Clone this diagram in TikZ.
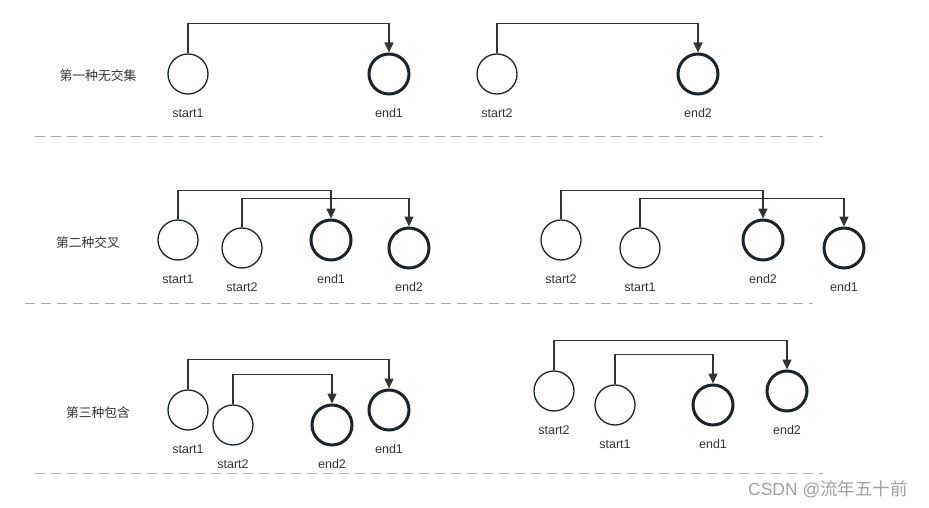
\documentclass[tikz,border=0pt]{standalone}
\usepackage{fontspec}
\setmainfont{Liberation Sans}
\newfontfamily\cjk{Noto Sans CJK SC}
\usepackage{xcolor}
\usepackage{tikz}
\usetikzlibrary{arrows.meta,positioning}
\definecolor{ink}{HTML}{1B2429}
\definecolor{txt}{HTML}{333333}
\definecolor{sep}{HTML}{A6A6A6}
\definecolor{mark}{HTML}{A0A0A0}

\begin{document}
\begin{tikzpicture}[x=1pt, y=-1pt,
    startnode/.style={circle, draw=ink, line width=1.3pt, minimum size=40pt, inner sep=0pt},
    endnode/.style={startnode, line width=3pt},
    lbl/.style={font=\fontsize{12.5}{14}\selectfont, text=txt, inner sep=0pt},
    title/.style={font=\cjk\fontsize{12.8}{14}\selectfont, text=txt, inner sep=0pt},
    link/.style={draw=txt, line width=1.5pt, -{Triangle[width=9pt,length=10pt]}},
    divider/.style={draw=sep, line width=1pt, dash pattern=on 10pt off 6pt}]
    \useasboundingbox (0,0) rectangle (929,508);

    % first row: no overlap
    \node[title] (t1) at (98,76) {第一种无交集};
    \node[startnode] (r1s1) at (188,74) {};
    \node[endnode] (r1e1) at (389,74) {};
    \node[startnode] (r1s2) at (497,74) {};
    \node[endnode] (r1e2) at (698,74) {};
    \node[lbl, below=14pt of r1s1] (r1s1l) {start1};
    \node[lbl, below=13pt of r1e1] (r1e1l) {end1};
    \node[lbl, below=14pt of r1s2] (r1s2l) {start2};
    \node[lbl, below=13pt of r1e2] (r1e2l) {end2};
    \draw[link] (r1s1.north) -- ++(0,-30) -| (r1e1.north);
    \draw[link] (r1s2.north) -- ++(0,-30) -| (r1e2.north);
    \draw[divider] (35,137) -- (823,137);

    % second row: crossing
    \node[title] (t2) at (88,243) {第二种交叉};
    \node[startnode] (r2s1) at (178,240) {};
    \node[startnode] (r2s2) at (242,248) {};
    \node[endnode] (r2e1) at (331,240) {};
    \node[endnode] (r2e2) at (409,248) {};
    \node[startnode] (r2s4) at (561,240) {};
    \node[startnode] (r2s3) at (640,248) {};
    \node[endnode] (r2e4) at (763,240) {};
    \node[endnode] (r2e3) at (844,248) {};
    \node[lbl, below=14pt of r2s1] (r2s1l) {start1};
    \node[lbl, below=14pt of r2s2] (r2s2l) {start2};
    \node[lbl, below=13pt of r2e1] (r2e1l) {end1};
    \node[lbl, below=13pt of r2e2] (r2e2l) {end2};
    \node[lbl, below=14pt of r2s4] (r2s4l) {start2};
    \node[lbl, below=14pt of r2s3] (r2s3l) {start1};
    \node[lbl, below=13pt of r2e4] (r2e4l) {end2};
    \node[lbl, below=13pt of r2e3] (r2e3l) {end1};
    \draw[link] (r2s1.north) -- ++(0,-29) -| (r2e1.north);
    \draw[link] (r2s2.north) -- ++(0,-29) -| (r2e2.north);
    \draw[link] (r2s4.north) -- ++(0,-29) -| (r2e4.north);
    \draw[link] (r2s3.north) -- ++(0,-29) -| (r2e3.north);
    \draw[divider] (25,303) -- (813,303);

    % third row: containment
    \node[title] (t3) at (98,413) {第三种包含};
    \node[startnode] (r3s1) at (188,410) {};
    \node[startnode] (r3s2) at (233,425) {};
    \node[endnode] (r3e2) at (332,425) {};
    \node[endnode] (r3e1) at (389,410) {};
    \node[startnode] (r3s4) at (554,391) {};
    \node[startnode] (r3s3) at (615,405) {};
    \node[endnode] (r3e3) at (713,405) {};
    \node[endnode] (r3e4) at (787,391) {};
    \node[lbl, below=14pt of r3s1] (r3s1l) {start1};
    \node[lbl, below=14pt of r3s2] (r3s2l) {start2};
    \node[lbl, below=13pt of r3e2] (r3e2l) {end2};
    \node[lbl, below=13pt of r3e1] (r3e1l) {end1};
    \node[lbl, below=14pt of r3s4] (r3s4l) {start2};
    \node[lbl, below=14pt of r3s3] (r3s3l) {start1};
    \node[lbl, below=13pt of r3e3] (r3e3l) {end1};
    \node[lbl, below=13pt of r3e4] (r3e4l) {end2};
    \draw[link] (r3s1.north) -- ++(0,-30) -| (r3e1.north);
    \draw[link] (r3s2.north) -- ++(0,-30) -| (r3e2.north);
    \draw[link] (r3s4.north) -- ++(0,-30) -| (r3e4.north);
    \draw[link] (r3s3.north) -- ++(0,-30) -| (r3e3.north);
    \draw[divider] (35,473) -- (823,473);

    \node[font=\fontsize{17.5}{20}\selectfont, text=mark, inner sep=0pt] (wm) at (828,489) {CSDN @{\cjk 流年五十前}};
  \end{tikzpicture}
\end{document}
